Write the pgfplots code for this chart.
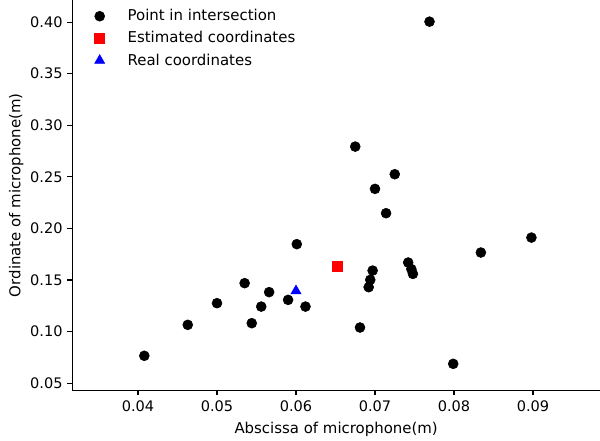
\documentclass[border=0pt]{standalone}
\usepackage{pgfplots}
\pgfplotsset{compat=1.18}
\usepackage{fontspec}
\setmainfont{DejaVu Sans}
\begin{document}
\begin{tikzpicture}
\begin{axis}[name=ax, scale only axis, width=381.6pt, height=282.4pt,
  xmin=0.03168, xmax=0.09848, ymin=0.0428, ymax=0.4214,
  axis x line*=bottom, axis y line*=left,
  axis line style={-, line width=0.8pt},
  xtick={0.04,0.05,0.06,0.07,0.08,0.09},
  ytick={0.05,0.10,0.15,0.20,0.25,0.30,0.35,0.40},
  scaled ticks=false,
  xticklabel style={/pgf/number format/.cd, fixed, fixed zerofill, precision=2},
  yticklabel style={/pgf/number format/.cd, fixed, fixed zerofill, precision=2},
  /pgf/number format/assume math mode=true,
  tick align=outside, major tick length=3.5pt,
  tick style={black, line width=0.8pt},
  ticklabel style={font=\fontsize{10.5}{12}\selectfont},
  label style={font=\fontsize{10.8}{12}\selectfont},
  xlabel={Abscissa of microphone(m)},
  ylabel={Ordinate of microphone(m)},
  xlabel style={yshift=-1pt},
  ylabel style={yshift=-2pt},
  legend style={draw=none, fill=none, at={(0.030,0.9905)}, anchor=north west,
    font=\fontsize{10.8}{12}\selectfont, row sep=2.3pt},
  legend cell align=left,
  legend image code/.code={\draw[#1] plot coordinates {(5pt,0pt)}; \path (0pt,0pt) (23pt,0pt);},
]
\addplot[only marks, mark=*, mark size=3.6pt, black] coordinates {
(0.0408,0.0765) (0.0463,0.1065) (0.0500,0.1275) (0.0535,0.1469)
(0.0544,0.1081) (0.0556,0.1242) (0.0566,0.1382) (0.0590,0.1307)
(0.0601,0.1847) (0.0612,0.1242) (0.0681,0.1039) (0.0692,0.1430)
(0.0694,0.1501) (0.0697,0.1591) (0.0742,0.1669) (0.0746,0.1605)
(0.0748,0.1559) (0.0834,0.1766) (0.0898,0.1911) (0.0799,0.0687)
(0.0769,0.4004) (0.0675,0.2793) (0.0725,0.2525) (0.0700,0.2383)
(0.0714,0.2147)
};
\addlegendentry{Point in intersection}
\addplot[only marks, mark=square*, mark size=3.6pt, red] coordinates {(0.0652,0.1630)};
\addlegendentry{Estimated coordinates}
\addplot[only marks, mark=triangle*, mark size=4.2pt, blue] coordinates {(0.0600,0.1394)};
\addlegendentry{Real coordinates}
\end{axis}
\pgfresetboundingbox
\path ([shift={(-52.25pt,-36.35pt)}]ax.south west) rectangle (ax.north east);
\end{tikzpicture}
\end{document}
